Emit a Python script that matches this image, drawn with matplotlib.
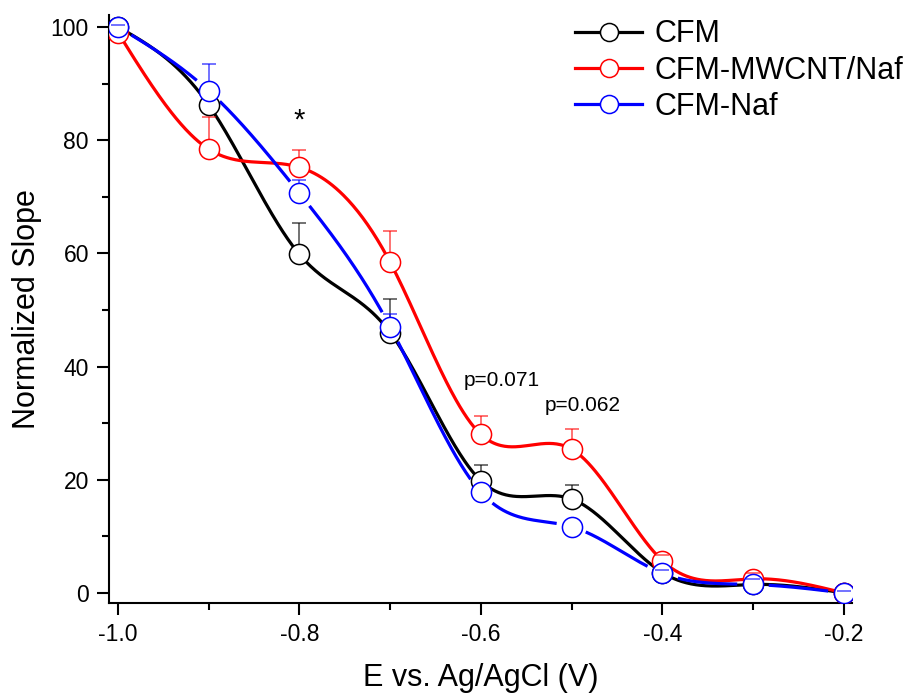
import numpy as np
import matplotlib
matplotlib.use("Agg")
import matplotlib.pyplot as plt
from matplotlib.lines import Line2D

plt.rcParams['font.family'] = ['Liberation Sans', 'DejaVu Sans']

# potentials (V vs Ag/AgCl)
potential = [-1.0, -0.9, -0.8, -0.7, -0.6, -0.5, -0.4, -0.3, -0.2]

# normalized slopes and upper error bars (0 = no bar shown)
cfm = [100.0, 86.2, 59.8, 46.0, 19.8, 16.6, 3.6, 1.5, 0.0]
cfm_err = [0.3, 2.4, 5.5, 6.0, 2.8, 2.4, 1.0, 0.5, 0.3]

cfm_mw = [99.0, 78.4, 75.2, 58.4, 28.0, 25.4, 5.7, 2.5, 0.0]
cfm_mw_err = [0.5, 5.7, 3.1, 5.6, 3.3, 3.6, 1.0, 1.0, 0.5]

cfm_naf = [100.0, 88.7, 70.6, 47.0, 17.8, 11.7, 3.5, 1.5, 0.0]
cfm_naf_err = [0.3, 4.7, 2.4, 2.3, 0.0, 0.0, 0.5, 1.0, 0.3]

labels = ['CFM', 'CFM-MWCNT/Naf', 'CFM-Naf']
colors = ['black', 'red', 'blue']


def natural_spline(x, y, xs):
    # natural cubic spline through the points, used only for the connecting line
    x = np.asarray(x, float)
    y = np.asarray(y, float)
    n = len(x)
    h = np.diff(x)
    A = np.zeros((n, n))
    b = np.zeros(n)
    A[0, 0] = A[-1, -1] = 1
    for i in range(1, n - 1):
        A[i, i - 1] = h[i - 1]
        A[i, i] = 2 * (h[i - 1] + h[i])
        A[i, i + 1] = h[i]
        b[i] = 6 * ((y[i + 1] - y[i]) / h[i] - (y[i] - y[i - 1]) / h[i - 1])
    M = np.linalg.solve(A, b)
    out = np.empty_like(xs)
    for k, xv in enumerate(xs):
        i = min(max(np.searchsorted(x, xv) - 1, 0), n - 2)
        t0 = x[i + 1] - xv
        t1 = xv - x[i]
        out[k] = (M[i] * t0 ** 3 + M[i + 1] * t1 ** 3) / (6 * h[i]) \
            + (y[i] / h[i] - M[i] * h[i] / 6) * t0 \
            + (y[i + 1] / h[i] - M[i + 1] * h[i] / 6) * t1
    return out


fig = plt.figure(figsize=(9.1, 6.95), dpi=100)
ax = fig.add_axes([0.1198, 0.1324, 0.8165, 0.846])
ax.set_xlim(-1.0099, -0.191)
ax.set_ylim(-1.77, 102.1)

xs = np.linspace(-1.0, -0.2, 600)
series = [(cfm, cfm_err), (cfm_mw, cfm_mw_err), (cfm_naf, cfm_naf_err)]

for idx, ((y, err), c) in enumerate(zip(series, colors)):
    ys = natural_spline(potential, y, xs)
    if c == 'blue':
        # gaps in the line around each symbol
        pts = ax.transData.transform(np.column_stack([xs, ys]))
        mpts = ax.transData.transform(np.column_stack([potential, y]))
        d = np.min(np.hypot(pts[:, None, 0] - mpts[None, :, 0],
                            pts[:, None, 1] - mpts[None, :, 1]), axis=1)
        ys = np.where(d < 15, np.nan, ys)
    ax.plot(xs, ys, color=c, lw=2.3, zorder=2 + idx * 0.1, solid_capstyle='butt')

    px = [p for p, e in zip(potential, err) if e > 0]
    py = [v for v, e in zip(y, err) if e > 0]
    pe = [e for e in err if e > 0]
    eb = ax.errorbar(px, py, yerr=[np.zeros(len(pe)), pe], fmt='none',
                     ecolor=c, alpha=0.7, elinewidth=1.1, capsize=5, capthick=1.1,
                     zorder=3 + idx * 0.1)
    ax.plot(potential, y, 'o', ms=14.5, mfc='white', mec=c, mew=1.1,
            zorder=4 + idx * 0.1)
    eb[1][0].set_visible(False)
    eb[1][1].set_zorder(4.05 + idx * 0.1)

ax.text(-0.8, 83.5, '*', fontsize=21, ha='center', va='center')
ax.text(-0.577, 37.6, 'p=0.071', fontsize=15, ha='center', va='center')
ax.text(-0.488, 33.2, 'p=0.062', fontsize=15, ha='center', va='center')

ax.set_xticks([-1.0, -0.8, -0.6, -0.4, -0.2])
ax.set_xticklabels(['-1.0', '-0.8', '-0.6', '-0.4', '-0.2'])
ax.set_xticks([-0.9, -0.7, -0.5, -0.3], minor=True)
ax.set_yticks([0, 20, 40, 60, 80, 100])
ax.set_yticks([10, 30, 50, 70, 90], minor=True)
ax.tick_params(which='major', direction='out', length=8.5, width=1.5,
               labelsize=16.5, pad=6)
ax.tick_params(which='minor', direction='out', length=5, width=1.5)
for s in ['top', 'right']:
    ax.spines[s].set_visible(False)
for s in ['left', 'bottom']:
    ax.spines[s].set_linewidth(1.5)

ax.set_xlabel('E vs. Ag/AgCl (V)', fontsize=22, labelpad=12)
ax.set_ylabel('Normalized Slope', fontsize=22, labelpad=6)

handles = [Line2D([], [], color=c, lw=2.3, marker='o', ms=13, mfc='white',
                  mec=c, mew=1.1) for c in colors]
fig.legend(handles, labels, loc='upper left', bbox_to_anchor=(0.632, 0.972),
           frameon=False, fontsize=22, handlelength=2.2, handletextpad=0.4,
           labelspacing=0.2, borderaxespad=0, borderpad=0)

fig.savefig('out.png', dpi=100)
